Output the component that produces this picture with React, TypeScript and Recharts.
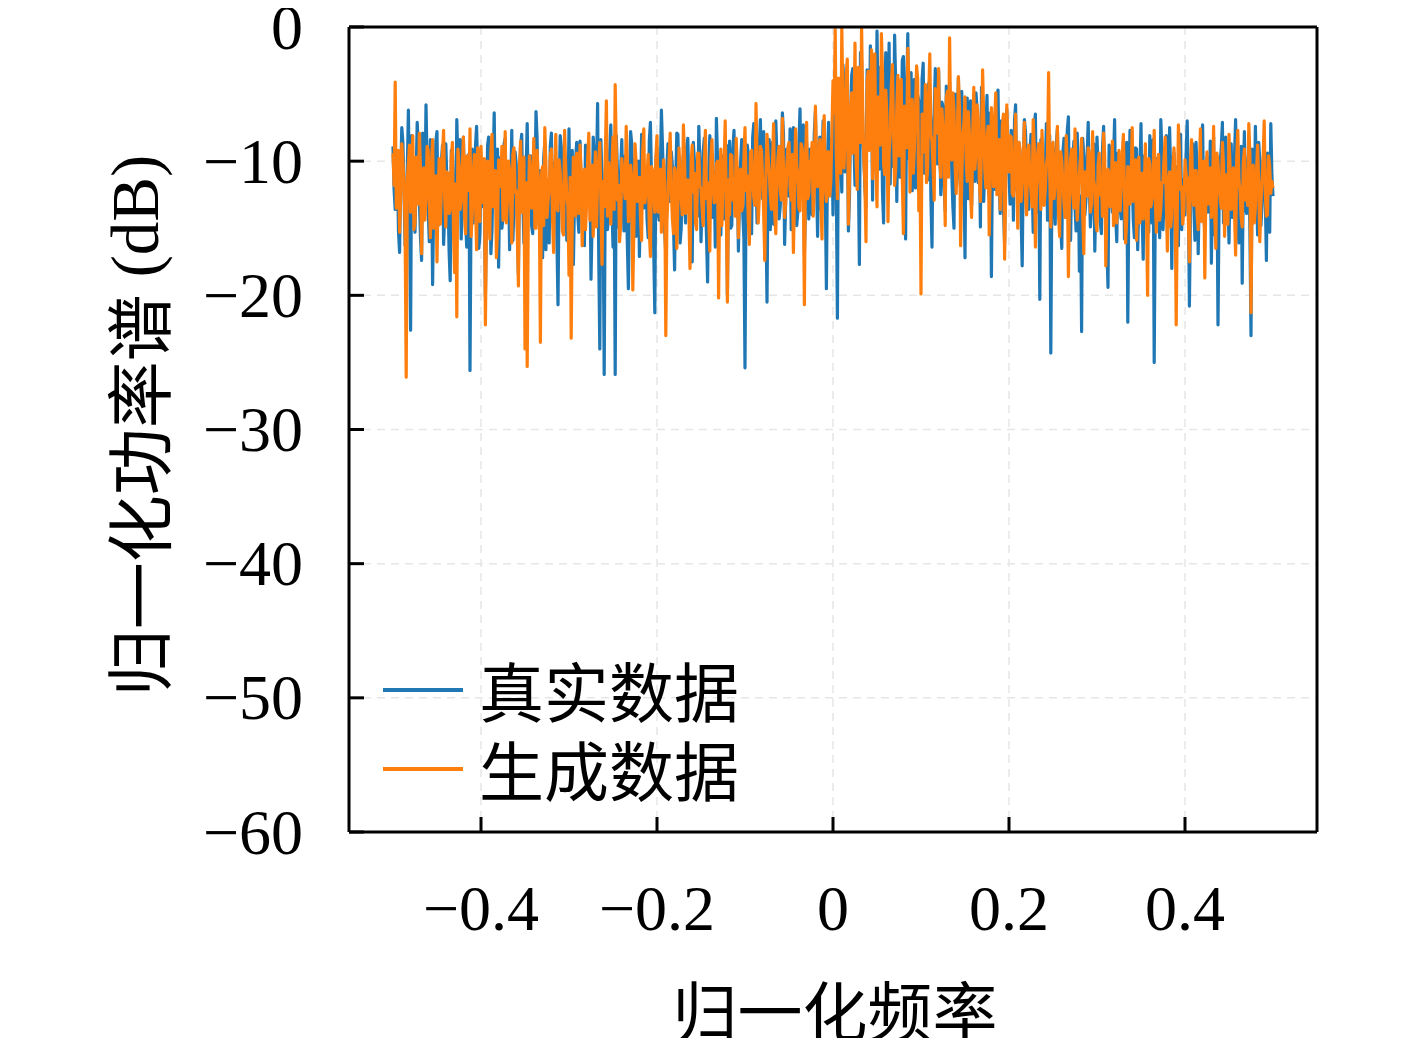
import React from 'react';
import { LineChart, Line, XAxis, YAxis, CartesianGrid, ReferenceLine } from 'recharts';

// 真实数据 (blue), samples at f = -0.5 + 0.0025 * i
const real = [
  -8.9, -13.6, -10.4, -16.8, -7.5, -12.2, -14.9, -6.2, -22.6, -10.8,
  -15.3, -7.1, -12.9, -17.4, -9.6, -5.8, -13.7, -8.4, -19.2, -11.5,
  -7.8, -14.6, -10.1, -16.2, -8.7, -12.4, -18.9, -9.3, -13.1, -6.9,
  -11.7, -15.8, -8.2, -14.3, -10.6, -25.6, -9.1, -12.8, -7.4, -16.5,
  -10.9, -13.4, -20.1, -8.8, -11.6, -15.1, -6.4, -12.5, -17.9, -9.7,
  -14.2, -8.3, -11.9, -16.6, -7.7, -13.3, -10.2, -18.4, -8.9, -12.7,
  -15.6, -7.2, -11.3, -14.8, -9.4, -6.3, -13.9, -10.7, -17.2, -8.6,
  -12.3, -16.1, -7.9, -14.5, -10.3, -20.7, -8.1, -13.6, -11.2, -15.9,
  -7.6, -12.1, -17.7, -9.9, -14.1, -8.5, -11.8, -16.3, -10.5, -13.2,
  -18.8, -8.2, -14.7, -5.7, -24.0, -11.4, -25.9, -9.2, -13.8, -7.3,
  -16.4, -25.9, -10.6, -12.6, -8.4, -15.2, -11.1, -19.5, -7.8, -14.0,
  -9.8, -12.9, -17.1, -8.0, -13.5, -10.9, -15.7, -7.1, -11.7, -21.3,
  -9.0, -14.4, -6.2, -12.0, -16.9, -8.7, -13.0, -10.4, -18.1, -7.9,
  -12.4, -15.0, -9.5, -14.6, -8.3, -11.5, -17.5, -10.0, -13.7, -7.4,
  -16.0, -9.3, -12.7, -19.0, -8.1, -14.2, -10.8, -6.8, -13.1, -15.5,
  -9.6, -12.2, -20.0, -8.5, -14.8, -7.7, -11.3, -16.7, -10.1, -13.9,
  -25.4, -8.8, -12.5, -15.4, -7.2, -10.7, -14.1, -6.9, -12.8, -17.3,
  -20.5, -8.4, -11.9, -14.7, -7.0, -10.3, -13.4, -6.4, -16.2, -9.1,
  -12.6, -15.1, -7.5, -10.9, -13.8, -6.1, -11.2, -17.0, -8.6, -14.3,
  -9.4, -12.1, -6.3, -15.6, -8.2, -11.0, -13.2, -19.5, -7.1, -10.5,
  -14.0, -5.6, -21.7, -8.9, -12.3, -4.4, -10.0, -15.2, -6.7, -3.1,
  -11.8, -8.0, -17.7, -2.5, -9.7, -13.5, -5.2, -1.4, -12.9, -7.3,
  -0.3, -10.6, -4.8, -14.6, -1.9, -8.4, -11.7, -3.5, -0.6, -13.0,
  -6.0, -9.1, -2.2, -15.8, -0.5, -7.6, -12.2, -3.9, -10.3, -5.5,
  -14.1, -2.7, -8.7, -11.4, -4.6, -16.4, -6.4, -9.8, -3.3, -12.5,
  -5.9, -13.7, -7.8, -4.1, -10.9, -15.0, -6.6, -3.8, -12.0, -8.3,
  -17.2, -5.3, -9.5, -13.3, -7.0, -4.9, -11.6, -14.9, -6.8, -10.1,
  -5.1, -12.7, -18.6, -7.4, -9.9, -4.7, -13.9, -8.8, -16.1, -6.1,
  -11.0, -7.7, -14.4, -5.8, -12.4, -9.3, -17.8, -6.9, -10.7, -13.6,
  -8.0, -15.3, -6.5, -11.3, -20.3, -8.6, -13.1, -7.2, -10.4, -24.3,
  -9.0, -14.7, -7.6, -12.3, -16.5, -8.3, -11.1, -6.7, -15.9, -10.0,
  -13.4, -7.9, -18.2, -22.7, -9.6, -12.8, -7.1, -14.9, -10.8, -16.7,
  -8.2, -12.0, -15.4, -7.4, -11.5, -19.4, -9.2, -13.8, -6.9, -16.0,
  -10.3, -14.3, -8.5, -12.7, -22.0, -7.7, -11.2, -15.7, -9.1, -13.0,
  -7.2, -17.3, -10.6, -12.9, -8.1, -14.6, -25.0, -9.8, -11.9, -6.9,
  -15.1, -10.2, -13.6, -7.5, -18.0, -9.4, -12.2, -16.3, -8.0, -11.4,
  -14.0, -7.0, -20.8, -10.7, -13.2, -8.6, -16.9, -11.8, -7.3, -15.2,
  -9.7, -12.6, -17.6, -8.2, -14.5, -22.2, -10.1, -7.1, -13.5, -11.0,
  -16.1, -8.7, -12.4, -6.9, -14.8, -10.4, -19.1, -7.8, -13.9, -9.2,
  -23.0, -11.6, -7.4, -15.5, -10.0, -13.3, -8.3, -17.4, -11.7, -7.2,
  -12.6,
];

// 真实数据 (blue), samples at f = -0.5 + 0.0025 * (i + 0.5)
const realMid = [
  -12.1, -9.4, -15.2, -11.0, -8.6, -16.3, -10.7, -13.5, -8.1, -14.4,
  -11.3, -9.0, -15.7, -7.9, -12.6, -10.2, -16.0, -9.7, -13.0, -8.5,
  -14.8, -10.9, -8.8, -13.9, -11.5, -16.7, -9.2, -12.3, -15.1, -10.0,
  -8.4, -13.2, -11.8, -16.4, -9.5, -12.7, -14.6, -8.9, -11.1, -15.5,
  -9.9, -12.4, -14.1, -8.2, -16.9, -10.5, -13.3, -9.1, -11.7, -15.0,
  -8.7, -13.8, -10.4, -12.0, -15.9, -9.3, -14.2, -11.2, -8.0, -16.1,
  -10.8, -13.1, -9.6, -15.4, -11.9, -8.3, -14.7, -12.5, -9.8, -16.6,
  -11.4, -8.9, -13.7, -10.1, -15.8, -12.2, -9.0, -14.0, -10.6, -13.4,
  -16.2, -9.2, -12.8, -8.6, -15.3, -11.6, -13.9, -8.8, -12.1, -10.3,
  -14.5, -9.7, -11.0, -16.8, -8.4, -13.6, -10.9, -15.1, -9.4, -12.9,
  -11.5, -8.1, -14.9, -10.7, -13.0, -9.6, -16.0, -12.4, -8.7, -11.8,
  -15.6, -10.0, -13.3, -9.1, -12.6, -14.4, -8.5, -11.2, -16.5, -9.9,
  -13.7, -11.1, -8.9, -15.2, -10.4, -12.8, -9.3, -14.8, -11.7, -8.0,
  -16.1, -10.6, -13.2, -9.0, -12.0, -15.7, -8.6, -11.4, -14.1, -10.2,
  -12.7, -8.3, -15.5, -11.0, -9.5, -13.6, -16.4, -9.8, -12.2, -10.8,
  -14.3, -8.8, -11.9, -15.0, -9.2, -13.1, -10.5, -12.5, -8.4, -15.8,
  -11.6, -9.4, -13.8, -8.2, -12.3, -14.6, -9.0, -11.1, -7.8, -13.5,
  -10.2, -15.1, -8.6, -12.0, -9.7, -14.3, -11.5, -8.0, -13.0, -10.6,
  -7.6, -12.9, -10.0, -14.8, -8.9, -11.7, -7.3, -13.3, -10.8, -9.1,
  -14.0, -7.9, -11.2, -9.5, -13.6, -7.0, -12.4, -9.9, -11.0, -8.3,
  -7.1, -11.5, -4.9, -9.3, -2.8, -10.8, -6.1, -12.6, -3.6, -8.5,
  -5.7, -10.1, -1.9, -7.4, -11.9, -3.2, -9.0, -5.0, -2.1, -10.5,
  -6.8, -3.0, -12.3, -5.4, -8.9, -1.2, -7.1, -10.4, -4.3, -6.6,
  -11.2, -2.5, -8.1, -4.7, -9.8, -3.4, -6.3, -12.0, -5.1, -8.7,
  -3.9, -10.9, -6.0, -4.2, -12.7, -7.5, -3.1, -10.2, -8.0, -5.6,
  -11.8, -4.4, -9.1, -6.9, -13.4, -5.0, -8.4, -11.0, -4.8, -10.1,
  -7.2, -12.8, -5.5, -9.6, -11.5, -6.2, -8.7, -4.5, -13.0, -7.8,
  -10.6, -6.4, -9.2, -12.1, -5.3, -11.1, -7.0, -13.6, -8.3, -10.0,
  -13.2, -9.4, -7.0, -12.0, -8.6, -14.1, -10.3, -7.8, -12.7, -9.6,
  -11.4, -7.3, -13.8, -9.9, -8.4, -12.5, -10.7, -14.4, -8.1, -11.8,
  -13.0, -8.8, -11.1, -14.9, -9.3, -12.2, -7.7, -13.7, -10.4, -8.5,
  -15.2, -10.9, -12.6, -8.3, -14.0, -9.8, -11.7, -13.3, -8.7, -12.4,
  -10.5, -14.6, -9.1, -12.9, -16.2, -8.8, -11.9, -10.2, -14.1, -9.4,
  -13.5, -11.0, -15.8, -8.6, -12.2, -10.7, -14.4, -9.0, -16.6, -11.3,
  -13.9, -9.6, -12.0, -15.3, -10.9, -8.4, -13.2, -11.5, -15.7, -9.3,
  -12.6, -8.1, -14.7, -11.2, -9.9, -13.6, -10.4, -8.9, -15.1, -12.8,
  -9.5, -11.7, -13.3, -8.7, -15.9, -10.6, -12.4, -9.2, -14.0, -11.0,
  -13.8, -8.5, -11.4, -15.5, -10.1, -12.9, -9.0, -14.6, -8.2, -12.0,
  -10.8, -14.2, -9.7, -12.3, -16.1, -8.9, -11.6, -13.4, -10.3, -15.0,
  -9.1, -13.0, -11.9, -8.6, -14.8, -10.5, -12.7, -9.4, -15.3, -11.1,
];

// 生成数据 (orange), samples at f = -0.5 + 0.0025 * i
const gen = [
  -9.4, -4.1, -12.5, -15.3, -8.7, -11.6, -26.1, -10.2, -13.8, -8.1,
  -14.6, -11.0, -7.9, -16.9, -10.5, -12.8, -9.2, -15.7, -8.4, -13.3,
  -17.5, -9.8, -12.0, -7.7, -14.9, -10.9, -13.6, -8.6, -18.3, -21.6,
  -10.3, -12.9, -8.2, -15.4, -11.4, -7.6, -14.0, -9.5, -16.6, -12.3,
  -8.9, -13.1, -22.2, -10.0, -15.8, -8.0, -12.6, -17.2, -9.9, -11.8,
  -14.4, -7.8, -13.0, -10.7, -16.1, -9.0, -12.2, -19.3, -8.5, -11.1,
  -24.0, -25.3, -9.6, -13.5, -8.3, -15.0, -11.3, -23.5, -10.4, -7.5,
  -14.2, -12.1, -9.1, -16.8, -8.0, -13.7, -10.8, -15.2, -7.7, -12.7,
  -18.5, -23.2, -9.7, -14.1, -11.9, -8.8, -16.3, -10.6, -13.2, -7.9,
  -12.4, -15.6, -9.3, -11.5, -8.6, -17.7, -13.4, -5.5, -10.1, -14.7,
  -8.2, -4.3, -12.9, -16.0, -9.8, -11.7, -7.4, -14.5, -10.3, -19.6,
  -8.7, -13.0, -11.2, -15.9, -7.6, -12.3, -9.5, -17.1, -10.7, -13.8,
  -8.1, -11.0, -15.3, -9.9, -23.0, -12.6, -7.9, -14.3, -10.5, -16.5,
  -9.0, -12.8, -7.3, -13.9, -11.4, -18.0, -8.8, -10.9, -15.1, -9.4,
  -12.0, -14.8, -7.7, -11.6, -16.7, -8.4, -13.1, -10.2, -20.2, -9.1,
  -11.8, -7.0, -20.5, -14.0, -9.6, -12.5, -8.3, -15.7, -10.6, -13.3,
  -7.5, -11.1, -16.2, -9.2, -12.7, -5.7, -14.6, -8.9, -11.4, -17.4,
  -8.0, -10.8, -13.6, -7.2, -15.4, -9.7, -12.1, -6.8, -14.2, -10.4,
  -8.6, -12.9, -16.8, -7.6, -11.0, -13.7, -9.0, -20.7, -7.1, -12.4,
  -10.0, -14.1, -5.9, -11.9, -8.4, -15.8, -6.6, -13.0, -9.3, -11.6,
  -4.0, -0.2, -12.8, -7.0, 0.0, -10.5, -3.5, -14.7, -6.2, -9.4,
  -1.2, -12.1, -5.0, 0.0, -9.8, -16.0, -3.3, -7.8, -11.3, -2.0,
  -13.4, -6.4, -0.5, -10.2, -4.7, -14.5, -8.1, -2.8, -11.8, -6.0,
  -9.6, -3.9, -15.4, -7.2, -1.6, -12.3, -5.4, -9.0, -2.9, -13.7,
  -19.9, -6.8, -4.3, -10.7, -2.0, -8.5, -12.9, -5.6, -3.1, -11.2,
  -7.5, -14.8, -4.8, -0.8, -9.9, -6.3, -12.4, -3.7, -16.3, -8.0,
  -5.2, -11.5, -7.9, -14.2, -4.5, -9.3, -6.7, -13.0, -3.2, -10.6,
  -8.4, -15.5, -6.0, -11.9, -4.9, -9.7, -13.6, -7.3, -17.3, -5.8,
  -10.8, -8.2, -12.6, -6.5, -15.0, -9.1, -11.4, -7.1, -14.0, -8.8,
  -12.2, -6.9, -16.4, -9.5, -11.1, -7.7, -13.3, -10.3, -3.4, -14.9,
  -8.6, -11.7, -7.4, -15.6, -10.0, -13.1, -8.1, -18.6, -9.8, -12.5,
  -7.6, -14.4, -10.9, -8.3, -16.9, -11.5, -9.0, -13.8, -7.8, -12.0,
  -15.2, -9.4, -11.3, -7.9, -17.8, -10.6, -13.4, -8.5, -12.7, -14.6,
  -9.2, -11.9, -8.0, -16.1, -10.4, -13.2, -7.5, -12.3, -15.9, -9.7,
  -11.1, -14.3, -8.7, -20.0, -10.2, -12.8, -7.7, -15.3, -9.5, -13.5,
  -11.6, -8.2, -16.7, -10.8, -13.9, -9.0, -22.2, -7.3, -12.1, -14.7,
  -9.9, -11.3, -17.5, -8.4, -13.3, -10.7, -15.1, -7.6, -12.6, -18.7,
  -9.3, -11.8, -14.2, -7.4, -16.5, -10.1, -12.9, -8.6, -15.6, -11.0,
  -8.0, -13.6, -10.5, -17.0, -7.7, -12.2, -14.9, -9.1, -11.7, -7.2,
  -21.3, -10.3, -13.4, -8.8, -16.0, -11.5, -7.0, -14.1, -9.6, -12.4,
  -12.0,
];

// 生成数据 (orange), samples at f = -0.5 + 0.0025 * (i + 0.5)
const genMid = [
  -11.8, -13.5, -9.2, -12.6, -10.1, -14.9, -11.3, -8.8, -12.0, -15.1,
  -9.7, -13.2, -10.6, -11.9, -14.4, -8.9, -12.9, -10.3, -15.0, -11.1,
  -12.4, -14.7, -9.4, -12.8, -10.8, -13.9, -9.9, -15.3, -11.7, -9.1,
  -13.6, -10.5, -14.1, -9.6, -12.2, -15.6, -10.9, -13.0, -9.0, -14.5,
  -11.5, -9.8, -14.0, -12.7, -9.3, -13.4, -10.7, -15.2, -11.9, -8.9,
  -12.5, -14.6, -10.0, -13.1, -9.5, -12.3, -15.4, -10.4, -13.8, -9.7,
  -11.6, -14.3, -10.8, -12.1, -15.0, -9.2, -13.7, -11.0, -14.8, -10.2,
  -12.9, -9.6, -14.2, -11.4, -13.5, -9.9, -12.6, -15.5, -10.5, -13.3,
  -11.2, -14.0, -12.3, -9.4, -13.9, -10.9, -12.0, -15.1, -9.8, -14.4,
  -10.3, -12.7, -14.9, -10.0, -13.0, -11.5, -9.6, -14.1, -12.2, -10.6,
  -13.6, -9.5, -11.8, -14.7, -10.9, -12.8, -9.9, -13.4, -11.3, -15.0,
  -10.1, -12.6, -14.2, -9.3, -13.1, -11.0, -15.2, -10.4, -12.4, -9.7,
  -13.8, -10.6, -12.9, -11.6, -14.5, -9.8, -12.1, -15.4, -10.8, -13.3,
  -11.1, -14.0, -9.6, -12.7, -13.9, -10.2, -12.3, -14.6, -9.4, -11.9,
  -13.5, -10.5, -12.8, -14.3, -9.9, -11.7, -13.0, -10.0, -12.5, -14.8,
  -10.3, -13.6, -11.4, -9.5, -12.9, -14.1, -10.7, -12.0, -13.7, -9.8,
  -12.2, -14.4, -9.4, -11.5, -13.3, -10.1, -12.7, -9.2, -13.9, -11.0,
  -9.6, -12.5, -10.4, -13.8, -11.3, -8.9, -12.9, -10.6, -13.1, -9.0,
  -11.9, -9.5, -12.4, -10.3, -13.5, -8.7, -11.6, -9.8, -12.8, -10.0,
  -8.6, -12.2, -9.9, -11.1, -13.0, -8.5, -11.7, -9.3, -12.6, -7.9,
  -6.4, -9.6, -3.8, -10.9, -5.7, -8.2, -2.4, -11.1, -4.9, -7.3,
  -9.9, -3.0, -8.6, -6.0, -11.6, -4.1, -9.2, -1.7, -6.9, -10.3,
  -5.2, -8.8, -3.4, -11.0, -6.6, -9.5, -4.4, -7.7, -10.6, -3.6,
  -7.0, -11.3, -5.9, -9.0, -4.0, -8.3, -10.9, -6.2, -3.9, -9.7,
  -6.5, -9.3, -11.6, -5.1, -8.0, -10.5, -4.6, -7.9, -10.0, -6.1,
  -9.4, -5.3, -11.2, -7.6, -4.9, -10.3, -8.5, -6.0, -11.8, -7.2,
  -9.8, -6.3, -12.2, -8.0, -10.6, -5.8, -11.4, -8.8, -6.7, -12.0,
  -7.4, -10.9, -9.0, -6.8, -12.5, -8.4, -10.7, -6.5, -11.9, -9.5,
  -8.1, -12.4, -9.9, -11.2, -8.6, -13.0, -10.0, -12.7, -9.3, -11.5,
  -13.4, -9.0, -11.9, -8.7, -13.6, -10.4, -12.1, -9.6, -11.0, -8.9,
  -12.8, -10.2, -13.9, -9.3, -11.7, -14.2, -10.6, -12.3, -9.1, -13.5,
  -11.1, -12.9, -9.7, -14.0, -10.8, -12.6, -9.4, -13.2, -11.4, -14.5,
  -10.3, -12.5, -14.1, -9.6, -13.3, -11.0, -12.2, -14.8, -10.1, -11.8,
  -13.7, -9.5, -12.4, -14.3, -10.5, -11.9, -13.0, -9.9, -12.7, -14.6,
  -10.9, -12.0, -14.0, -9.8, -13.4, -11.2, -12.8, -10.2, -14.4, -11.6,
  -9.7, -13.1, -11.5, -14.9, -10.4, -12.3, -13.8, -9.6, -11.9, -13.6,
  -11.0, -14.2, -9.9, -12.6, -10.7, -13.9, -11.3, -14.5, -10.0, -12.1,
  -13.2, -10.5, -12.8, -14.0, -9.4, -11.7, -13.5, -10.3, -12.2, -14.7,
  -10.6, -12.4, -13.7, -9.8, -11.4, -14.1, -10.1, -12.9, -13.3, -9.5,
  -12.7, -14.6, -10.8, -11.8, -13.1, -9.9, -12.3, -14.0, -10.4, -11.5,
];

const freqStart = -0.5;
const freqStep = 0.0025;
const freqTicks = [-0.4, -0.2, 0, 0.2, 0.4];
const dbTicks = [0, -10, -20, -30, -40, -50, -60];
const xDomain = [-0.55, 0.55];
const yDomain = [-60, 0];
const seriesNames = ['真实数据', '生成数据'];
const xLabel = '归一化频率';
const yLabelCjk = '归一化功率谱';
const yLabelUnit = ' (dB)';

const data: { f: number; real: number; gen: number }[] = [];
real.forEach((v, i) => {
  data.push({ f: freqStart + i * freqStep, real: v, gen: gen[i] });
  if (i < realMid.length) {
    data.push({
      f: freqStart + (i + 0.5) * freqStep,
      real: realMid[i],
      gen: genMid[i],
    });
  }
});

const BLUE = '#1f77b4';
const ORANGE = '#ff7f0e';
const SERIF = '"Liberation Serif", "DejaVu Serif", serif';
const CJK = '"Noto Sans CJK SC", sans-serif';

const fmt = (v: number) => {
  if (v === 0) return '0';
  const s = String(Math.abs(Math.round(v * 100) / 100));
  return v < 0 ? '\u2212' + s : s;
};

const YTick = (props: any) => {
  const { x, y, payload } = props;
  return (
    <g>
      <line x1={x} x2={x + 15} y1={y} y2={y} stroke="#000" strokeWidth={3} />
      <text
        x={x - 46}
        y={y}
        textAnchor="end"
        dominantBaseline="central"
        fontFamily={SERIF}
        fontSize={64}
        fill="#000"
      >
        {fmt(payload.value)}
      </text>
    </g>
  );
};

const XTick = (props: any) => {
  const { x, y, payload } = props;
  return (
    <g>
      <line x1={x} x2={x} y1={y} y2={y - 15} stroke="#000" strokeWidth={3} />
      <text
        x={x}
        y={y + 98}
        textAnchor="middle"
        fontFamily={SERIF}
        fontSize={64}
        fill="#000"
      >
        {fmt(payload.value)}
      </text>
    </g>
  );
};

const XLabel = (props: any) => {
  const vb = props.viewBox || { x: 349, y: 832, width: 968, height: 214 };
  return (
    <text
      x={vb.x + vb.width / 2 + 2}
      y={vb.y + 176}
      textAnchor="middle"
      dominantBaseline="central"
      fontFamily={CJK}
      fontSize={65}
      fill="#000"
    >
      {xLabel}
    </text>
  );
};

const YLabel = (props: any) => {
  const vb = props.viewBox || { x: 0, y: 27, width: 349, height: 805 };
  const cx = 135;
  const cy = vb.y + vb.height / 2 - 4;
  return (
    <text
      x={cx}
      y={cy}
      textAnchor="middle"
      dominantBaseline="central"
      transform={`rotate(-90, ${cx}, ${cy})`}
      fill="#000"
      fontSize={67}
    >
      <tspan fontFamily={CJK}>{yLabelCjk}</tspan>
      <tspan fontFamily={SERIF}>{yLabelUnit}</tspan>
    </text>
  );
};

const LegendBox = () => (
  <div
    style={{
      position: 'absolute',
      left: 383,
      top: 650,
      pointerEvents: 'none',
    }}
  >
    {[BLUE, ORANGE].map((c, i) => (
      <div
        key={i}
        style={{ display: 'flex', alignItems: 'center', height: 79 }}
      >
        <div style={{ width: 80, height: 4, background: c, marginRight: 16 }} />
        <span
          style={{
            fontFamily: CJK,
            fontSize: 65,
            lineHeight: '79px',
            color: '#000',
          }}
        >
          {seriesNames[i]}
        </span>
      </div>
    ))}
  </div>
);

export default function App() {
  return (
    <div style={{ position: 'relative', width: 1401, height: 1030 }}>
      <div style={{ position: 'absolute', top: -8, left: -8, width: 1417, height: 1046 }}>
        <LineChart
          width={1417}
          height={1046}
          data={data}
          margin={{ top: 27, right: 100, left: 0, bottom: 0 }}
        >
          <CartesianGrid
            stroke="#e6e6e6"
            strokeDasharray="8 6"
            strokeWidth={1.5}
          />
          <XAxis
            dataKey="f"
            type="number"
            domain={xDomain}
            ticks={freqTicks}
            allowDataOverflow
            height={214}
            tickSize={0}
            tickMargin={0}
            tickLine={false}
            tick={<XTick />}
            axisLine={{ stroke: '#000', strokeWidth: 3 }}
            interval={0}
            label={<XLabel />}
          />
          <YAxis
            type="number"
            domain={yDomain}
            ticks={dbTicks}
            allowDataOverflow
            width={349}
            tickSize={0}
            tickMargin={0}
            tickLine={false}
            tick={<YTick />}
            axisLine={{ stroke: '#000', strokeWidth: 3 }}
            interval={0}
            label={<YLabel />}
          />
          <Line
            dataKey="real"
            stroke={BLUE}
            strokeWidth={3.2}
            dot={false}
            activeDot={false}
            isAnimationActive={false}
            strokeLinejoin="round"
          />
          <Line
            dataKey="gen"
            stroke={ORANGE}
            strokeWidth={3.2}
            dot={false}
            activeDot={false}
            isAnimationActive={false}
            strokeLinejoin="round"
          />
          <ReferenceLine y={yDomain[1]} stroke="#000" strokeWidth={3} ifOverflow="visible" />
          <ReferenceLine x={xDomain[1]} stroke="#000" strokeWidth={3} ifOverflow="visible" />
        </LineChart>
        <LegendBox />
      </div>
    </div>
  );
}
